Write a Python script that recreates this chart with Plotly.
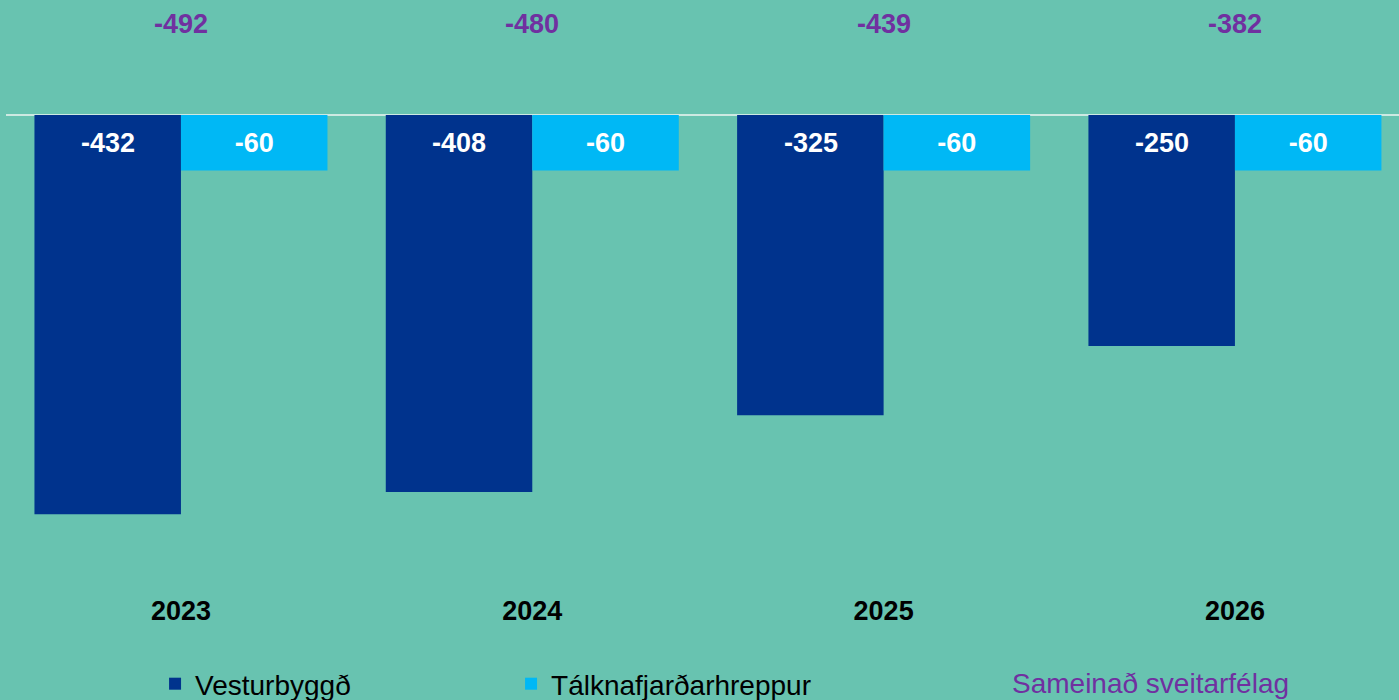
import plotly.graph_objects as go

years = ["2023", "2024", "2025", "2026"]
vesturbyggd = [-432, -408, -325, -250]
talknafjordur = [-60, -60, -60, -60]
sameinad = [-492, -480, -439, -382]

DARK = "#00338D"
LIGHT = "#00B8F5"
PURPLE = "#7030A0"
BG = "#68C3B0"
FONT = "Liberation Sans, Arial, sans-serif"

fig = go.Figure()
fig.add_trace(go.Bar(x=years, y=vesturbyggd, name="Vesturbyggð", marker_color=DARK,
                     marker_line_width=0))
fig.add_trace(go.Bar(x=years, y=talknafjordur, name="Tálknafjarðarhreppur", marker_color=LIGHT,
                     marker_line_width=0, text=[str(v) for v in talknafjordur],
                     textposition="inside", insidetextanchor="middle",
                     textfont=dict(color="white", size=27, family=FONT, weight="bold")))

annotations = []
# gildi dökku súlnanna, efst í súlu (x = númer flokks)
for i, v in enumerate(vesturbyggd):
    annotations.append(dict(x=i, y=0, xref="x", yref="y", text=str(v), showarrow=False,
                            xshift=-73, yshift=-28, yanchor="middle",
                            font=dict(color="white", size=27, family=FONT, weight="bold")))
# samtals
for i, v in enumerate(sameinad):
    annotations.append(dict(x=i, y=0.9595, xref="x", yref="paper", text=str(v), showarrow=False,
                            yanchor="middle",
                            font=dict(color=PURPLE, size=27, family=FONT, weight="bold")))
annotations.append(dict(x=0.7205, y=-0.1554, xref="paper", yref="paper", text="Sameinað sveitarfélag",
                        showarrow=False, xanchor="left", yanchor="middle",
                        font=dict(color=PURPLE, size=28, family=FONT)))

fig.update_layout(
    width=1399, height=700,
    margin=dict(l=6, r=0, t=0, b=108, autoexpand=False),
    paper_bgcolor=BG, plot_bgcolor=BG,
    barmode="group", bargap=0.166, bargroupgap=0,
    font=dict(family=FONT, color="black"),
    showlegend=True,
    legend=dict(orientation="h", x=0.107, y=-0.1554, xanchor="left", yanchor="middle",
                font=dict(size=28, color="black", family=FONT), entrywidth=311,
                bgcolor="rgba(0,0,0,0)"),
    annotations=annotations,
)
fig.update_xaxes(type="category", range=[-0.498, 3.467], showgrid=False, showline=False, ticks="",
                 tickfont=dict(size=27, color="black", family=FONT, weight="bold"))
fig.update_yaxes(range=[-516.2, 124.5], showgrid=False, showticklabels=False,
                 zeroline=True, zerolinecolor="#CDE9E2", zerolinewidth=2)

fig.write_html("out.html", config={"displayModeBar": False},
               post_script="document.body.style.margin='0';")
